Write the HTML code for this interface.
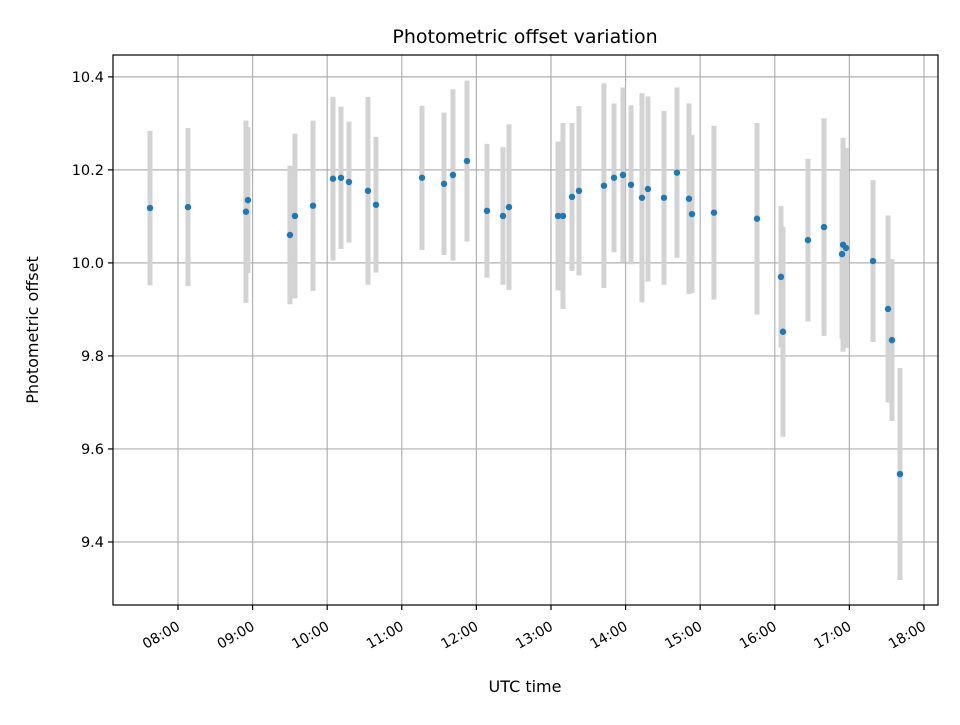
<!DOCTYPE html>
<html><head><meta charset="utf-8"><style>
html,body{margin:0;padding:0;background:#fff;}
svg text{font-family:"DejaVu Sans","Liberation Sans",sans-serif;fill:#000;}
</style></head><body>
<svg id="chart" width="960" height="720" viewBox="0 0 960 720" xmlns="http://www.w3.org/2000/svg">
<rect x="0" y="0" width="960" height="720" fill="#fff"/>
<g id="grid"></g>
<g id="bars"></g>
<g id="pts"></g>
<rect x="113" y="55" width="825" height="550" fill="none" stroke="#000" stroke-width="1.2"/>
<g id="axes"></g>
<text x="525" y="43" text-anchor="middle" font-size="19">Photometric offset variation</text>
<text x="525" y="692" text-anchor="middle" font-size="16">UTC time</text>
<text transform="translate(38,330) rotate(-90)" text-anchor="middle" font-size="16">Photometric offset</text>
</svg>
<script>
const times=[7.625,8.134,8.911,8.938,9.501,9.568,9.81,10.078,10.185,10.292,10.547,10.654,11.271,11.566,11.686,11.874,12.142,12.357,12.437,13.094,13.161,13.282,13.375,13.71,13.845,13.965,14.073,14.22,14.3,14.515,14.689,14.85,14.89,15.185,15.762,16.083,16.11,16.445,16.66,16.902,16.915,16.955,17.317,17.518,17.571,17.678];
const values=[10.118,10.120,10.110,10.135,10.060,10.101,10.123,10.181,10.183,10.174,10.155,10.125,10.183,10.170,10.189,10.219,10.112,10.101,10.120,10.101,10.101,10.142,10.155,10.166,10.183,10.189,10.168,10.140,10.159,10.140,10.194,10.138,10.105,10.108,10.095,9.970,9.852,10.049,10.077,10.019,10.039,10.032,10.004,9.901,9.834,9.546];
const errors=[0.166,0.170,0.196,0.157,0.149,0.177,0.183,0.176,0.153,0.130,0.202,0.146,0.155,0.153,0.184,0.173,0.144,0.148,0.178,0.160,0.200,0.159,0.182,0.220,0.160,0.188,0.171,0.225,0.199,0.187,0.183,0.205,0.170,0.187,0.206,0.152,0.226,0.175,0.234,0.183,0.230,0.215,0.174,0.201,0.174,0.228];
const xTicks=[8,9,10,11,12,13,14,15,16,17,18];
const xTickLabels=["08:00","09:00","10:00","11:00","12:00","13:00","14:00","15:00","16:00","17:00","18:00"];
const yTicks=[9.4,9.6,9.8,10.0,10.2,10.4];
const yTickLabels=["9.4","9.6","9.8","10.0","10.2","10.4"];
const X0=113,X1=938,Y0=55,Y1=605;
const xMin=7.129,xMax=18.188,yMin=9.2645,yMax=10.447;
const xs=v=>X0+(v-xMin)/(xMax-xMin)*(X1-X0);
const ys=v=>Y1-(v-yMin)/(yMax-yMin)*(Y1-Y0);
const NS="http://www.w3.org/2000/svg";
function mk(t,a,p){const e=document.createElementNS(NS,t);for(const k in a)e.setAttribute(k,a[k]);p.appendChild(e);return e;}
const grid=document.getElementById('grid'),axes=document.getElementById('axes'),bars=document.getElementById('bars'),pts=document.getElementById('pts');
xTicks.forEach((t,i)=>{const x=xs(t);
 const g=mk('line',{x1:x,x2:x,y1:Y0,y2:Y1,stroke:'#b0b0b0','stroke-width':1.2},grid);
 
 
 const tk=mk('line',{x1:x,x2:x,y1:Y1,y2:Y1+5,stroke:'#000','stroke-width':1.2},axes);
 
 
 const tx=mk('text',{transform:`translate(${x+3},${Y1+24}) rotate(-30)`,'text-anchor':'end','font-size':'14'},axes);
 tx.textContent=xTickLabels[i];
 
 
});
yTicks.forEach((t,i)=>{const y=ys(t);
 const g=mk('line',{x1:X0,x2:X1,y1:y,y2:y,stroke:'#b0b0b0','stroke-width':1.2},grid);
 
 
 const tk=mk('line',{x1:X0-5,x2:X0,y1:y,y2:y,stroke:'#000','stroke-width':1.2},axes);
 
 
 const tx=mk('text',{x:X0-9,y:y+5,'text-anchor':'end','font-size':'14.5'},axes);
 tx.textContent=yTickLabels[i];
 
 
});
times.forEach((t,i)=>{const x=xs(t);
 const b=mk('line',{x1:x,x2:x,y1:ys(values[i]+errors[i]),y2:ys(values[i]-errors[i]),stroke:'#d3d3d3','stroke-width':5},bars);
 
 
});
times.forEach((t,i)=>{
 const c=mk('circle',{cx:xs(t),cy:ys(values[i]),r:3.2,fill:'#1f77b4'},pts);
 
 
});
</script>
</body></html>
